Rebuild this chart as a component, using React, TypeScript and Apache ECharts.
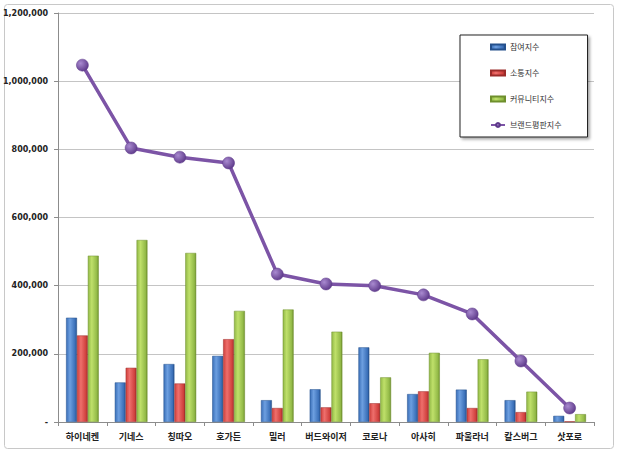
import {useEffect, useRef} from "react";
import * as echarts from "echarts";

const brands = ["하이네켄", "기네스", "칭따오", "호가든", "밀러", "버드와이저", "코로나", "아사히", "파울라너", "칼스버그", "삿포로"];
const participation = [306000, 116000, 170000, 194000, 64000, 96000, 219000, 82000, 95000, 64000, 18000];
const communication = [254000, 159000, 113000, 243000, 41000, 43000, 55000, 90000, 41000, 29000, 2000];
const community = [488000, 534000, 496000, 326000, 330000, 265000, 131000, 203000, 184000, 89000, 23000];
const reputation = [1047000, 804000, 777000, 760000, 434000, 405000, 400000, 373000, 317000, 179000, 41000];

const FONT = "'Noto Sans CJK KR', 'Noto Sans', sans-serif";

function barGradient(dark: string, light: string, edge: string) {
    return new echarts.graphic.LinearGradient(0, 0, 1, 0, [
        {offset: 0, color: dark},
        {offset: 0.35, color: light},
        {offset: 0.85, color: dark},
        {offset: 1, color: edge},
    ]);
}

export default function App() {
    const domRef = useRef<HTMLDivElement>(null);

    useEffect(() => {
        if (!domRef.current) return;
        const chart = echarts.init(domRef.current, null, {renderer: "svg"});
        const barSeries = (name: string, data: number[], dark: string, light: string, edge: string) => ({
            name,
            type: "bar",
            data,
            barGap: "0%",
            barCategoryGap: "33%",
            itemStyle: {color: barGradient(dark, light, edge), borderColor: edge, borderWidth: 0.5},
        });
        chart.setOption({
            animation: false,
            textStyle: {fontFamily: FONT},
            graphic: [{
                type: "rect",
                shape: {x: 4.5, y: 4.5, width: 609, height: 444, r: 3},
                style: {fill: "none", stroke: "#c8c8c8", lineWidth: 1},
                silent: true,
            }],
            grid: {left: 54, right: 26, top: 13, bottom: 32},
            legend: {
                orient: "vertical",
                left: 460,
                top: 35,
                padding: [8, 26, 8, 30],
                itemGap: 18,
                itemWidth: 14,
                itemHeight: 5,
                backgroundColor: "#fff",
                borderColor: "#222",
                borderWidth: 1,
                shadowBlur: 3,
                shadowOffsetX: 2,
                shadowOffsetY: 2,
                shadowColor: "rgba(0,0,0,0.35)",
                textStyle: {fontSize: 8, color: "#333", fontFamily: FONT},
                data: [
                    {name: "참여지수", icon: "rect"},
                    {name: "소통지수", icon: "rect"},
                    {name: "커뮤니티지수", icon: "rect"},
                    {name: "브랜드평판지수"},
                ],
            },
            xAxis: {
                type: "category",
                data: brands,
                axisLine: {lineStyle: {color: "#8c8c8c"}},
                axisTick: {show: true, length: 4, lineStyle: {color: "#8c8c8c"}},
                axisLabel: {interval: 0, color: "#222", fontSize: 9, fontWeight: "bold", margin: 10, fontFamily: FONT},
            },
            yAxis: {
                type: "value",
                min: 0,
                max: 1200000,
                interval: 200000,
                axisLine: {show: true, lineStyle: {color: "#8c8c8c"}},
                axisTick: {show: true, length: 4, lineStyle: {color: "#8c8c8c"}},
                splitLine: {lineStyle: {color: "#c4c4c4"}},
                axisLabel: {
                    color: "#222",
                    fontSize: 8,
                    fontWeight: "bold",
                    margin: 10,
                    fontFamily: "Tahoma, 'DejaVu Sans', sans-serif",
                    formatter: (v: number) => (v === 0 ? "-" : v.toLocaleString("en-US")),
                },
            },
            series: [
                barSeries("참여지수", participation, "#3a6fb8", "#6d9fe0", "#24508c"),
                barSeries("소통지수", communication, "#cf3f3c", "#ee6f6c", "#9c2c2a"),
                barSeries("커뮤니티지수", community, "#92b947", "#bfe06a", "#6e8f2c"),
                {
                    name: "브랜드평판지수",
                    type: "line",
                    data: reputation,
                    symbol: "circle",
                    symbolSize: 12,
                    z: 5,
                    lineStyle: {color: "#7c54a6", width: 3.5},
                    itemStyle: {
                        color: new echarts.graphic.RadialGradient(0.35, 0.35, 0.7, [
                            {offset: 0, color: "#a98ad0"},
                            {offset: 1, color: "#5e3a8a"},
                        ]),
                        borderColor: "#5e3a8a",
                        borderWidth: 0.5,
                    },
                },
            ],
        });
        return () => chart.dispose();
    }, []);

    return <div ref={domRef} style={{position: "fixed", left: 0, top: 0, width: 620, height: 454, background: "#fff"}} />;
}
